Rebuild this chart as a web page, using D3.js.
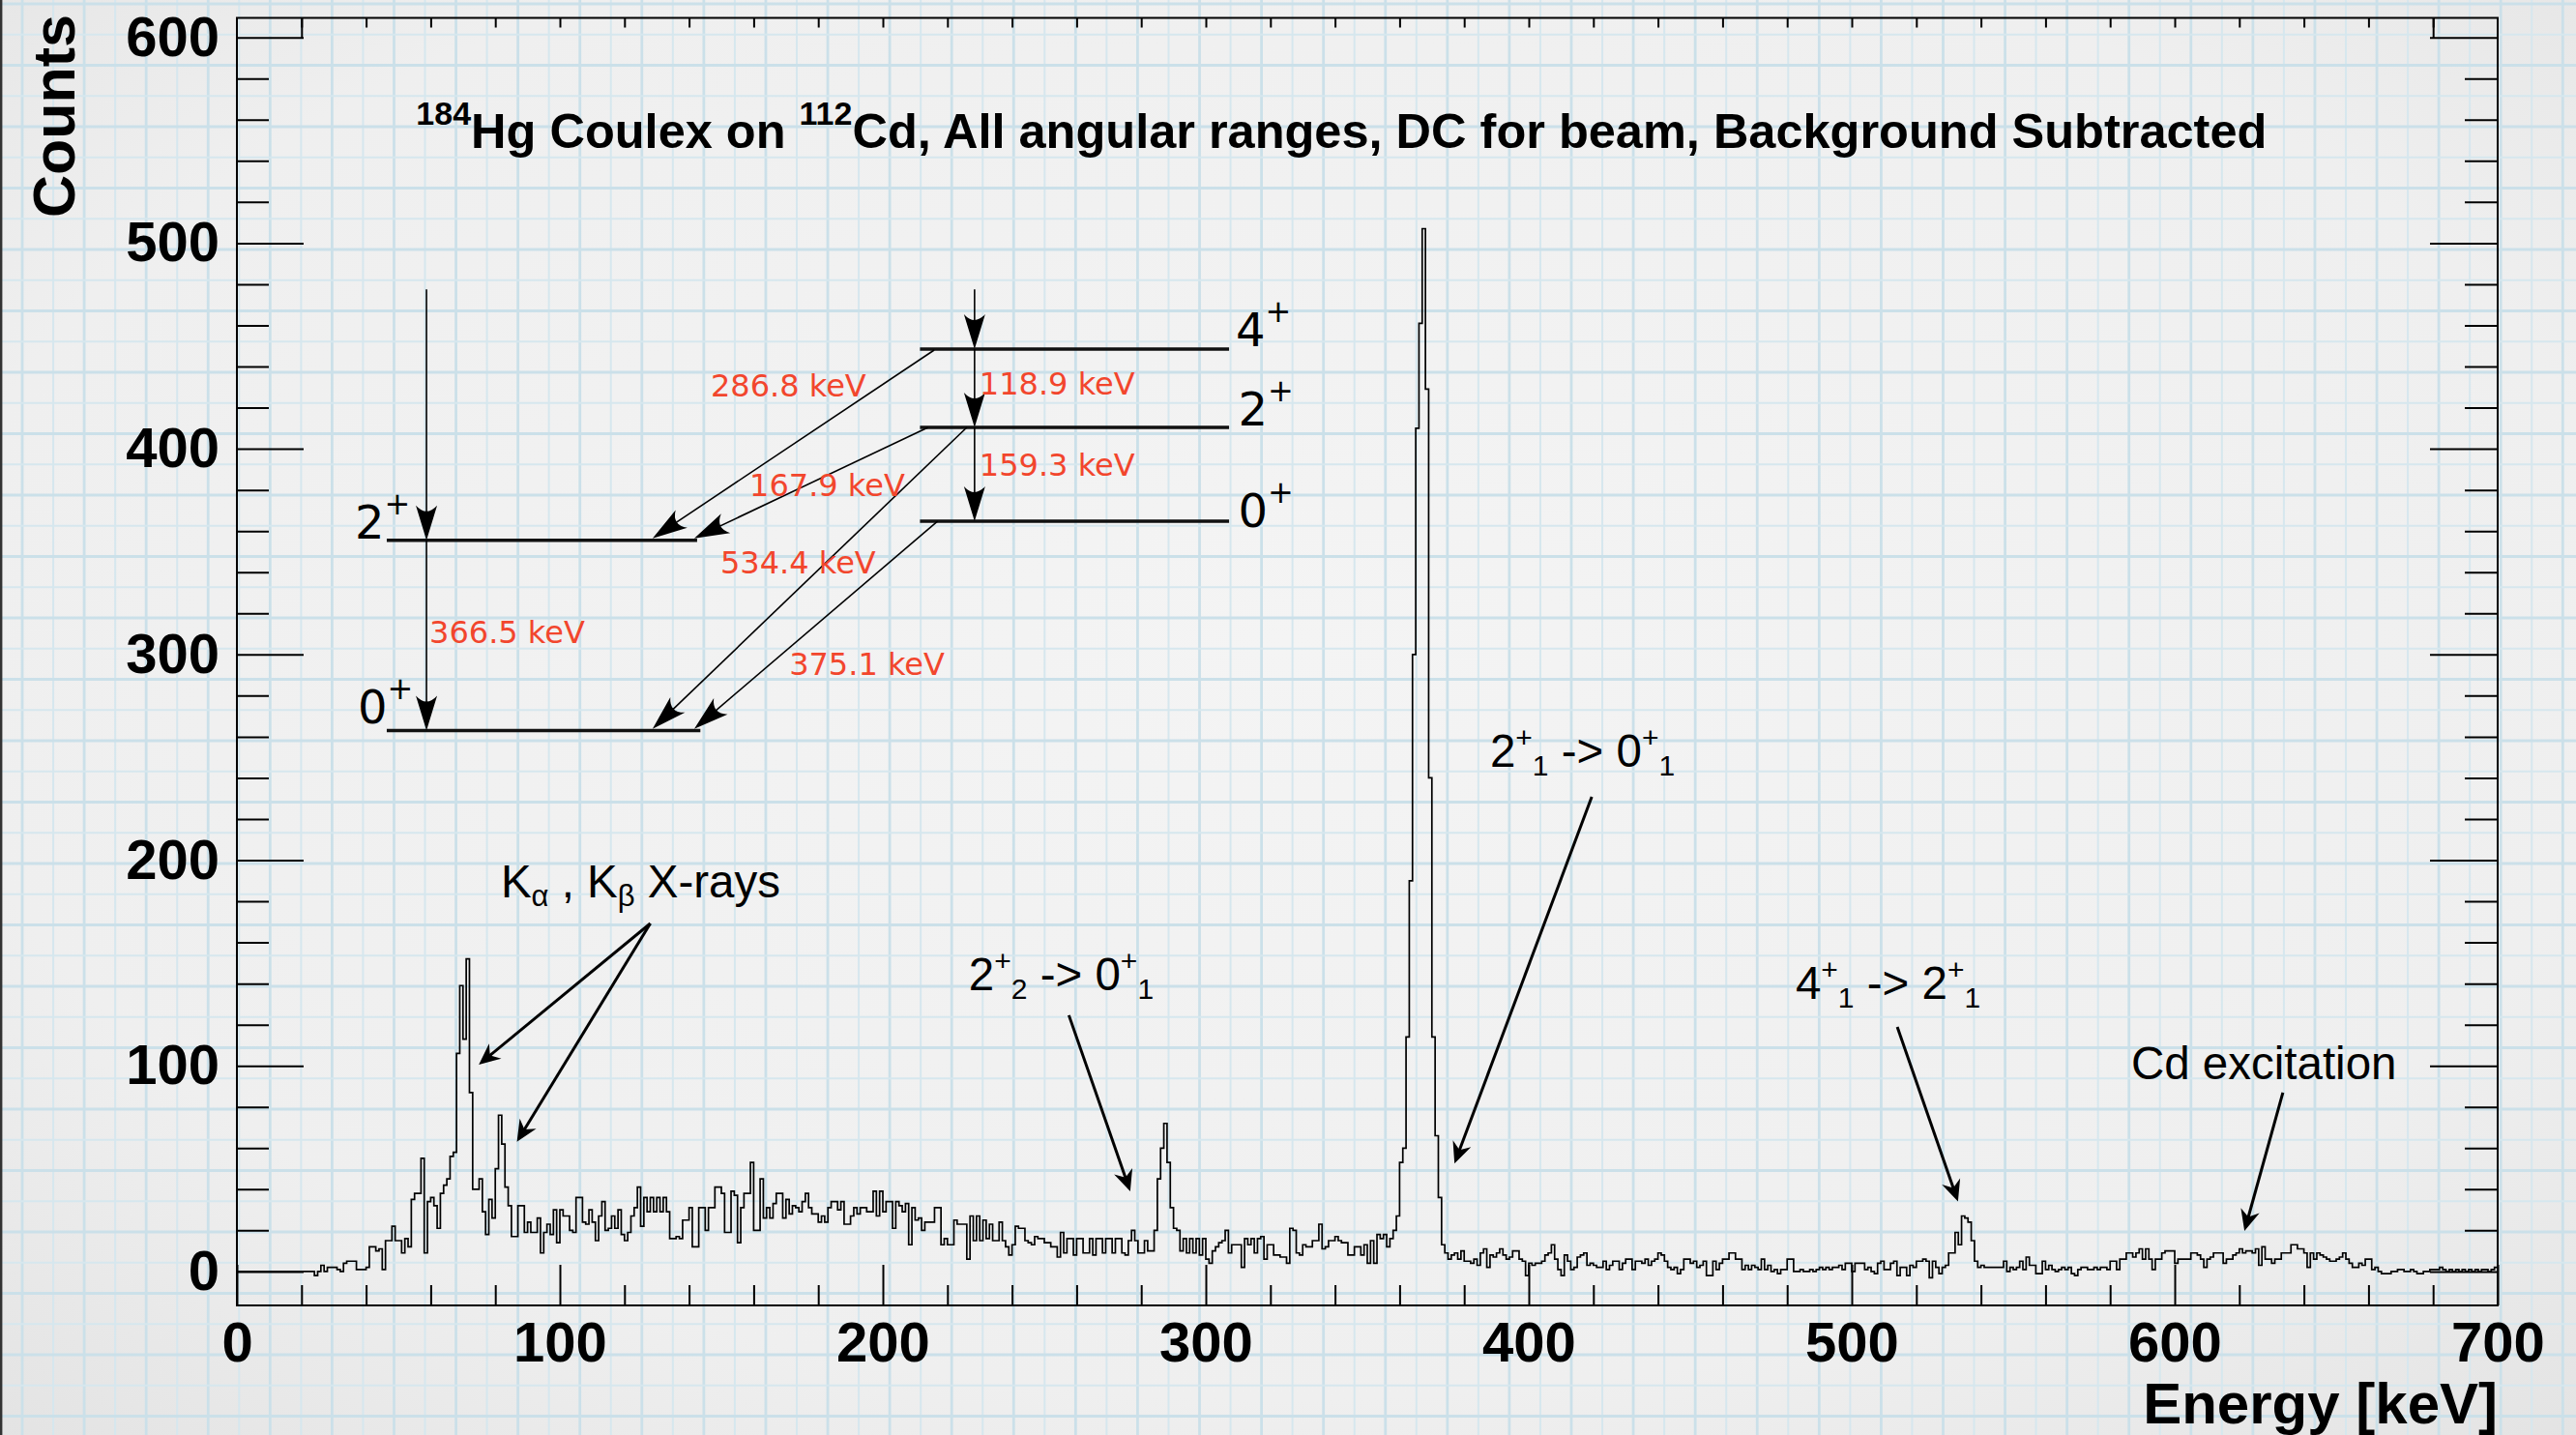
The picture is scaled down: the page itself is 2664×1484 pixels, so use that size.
<!DOCTYPE html>
<html><head><meta charset="utf-8">
<script src="https://cdn.jsdelivr.net/npm/d3@7"></script>
<style>html,body{margin:0;padding:0;background:#eee;overflow:hidden}</style>
</head><body>
<svg id="c" width="2664" height="1484" xmlns="http://www.w3.org/2000/svg"></svg>
<script>
// ---------------- DATA (1 keV bins, counts) ----------------
const counts000 = [0,0,0,0,0,0,0,0,0,0, 0,0,0,0,0,0,0,0,0,0, 0,0,0,0,-2,0,3,0,2,2, 2,1,0,4,5,5,5,1,1,1,
  2,12,12,10,11,1,15,15,22,15, 15,9,16,12,35,38,38,55,9,34, 36,32,21,38,42,45,56,58,106,139,
  113,152,87,40,40,45,29,18,35,26, 50,76,62,41,32,17,17,32,32,19, 24,19,19,26,9,19,23,18,30,14];
const counts100 = [30,27,27,20,19,36,36,24,23,30, 24,15,27,34,20,21,27,21,30,18, 15,19,27,31,41,22,36,29,36,29,
  36,29,36,29,16,16,17,16,25,25, 31,12,12,31,31,20,31,31,41,41, 38,19,19,39,37,14,31,38,38,53,
  20,20,45,26,31,26,33,38,38,26, 35,28,32,31,29,34,38,31,28,28, 24,27,24,31,34,34,30,34,23,23,
  27,31,28,31,31,29,29,39,27,39];
const counts200 = [29,34,34,21,34,32,29,33,13,31, 25,26,20,24,24,24,31,31,13,16, 13,13,25,23,23,23,6,27,15,27,
  15,25,16,23,15,15,24,15,12,8, 13,22,21,21,15,14,13,17,16,16, 14,14,12,12,7,19,9,16,16,8,
  16,16,9,9,16,8,16,16,9,16, 16,9,16,16,9,8,15,20,15,9, 9,15,10,10,20,45,60,72,53,31,
  21,20,10,16,9,16,9,16,8,16];
const counts300 = [6,4,10,12,14,15,20,9,13,13, 13,2,16,13,16,9,16,17,6,13, 13,8,8,7,7,4,21,20,9,8,
  13,12,12,15,15,23,11,12,15,15, 17,15,14,14,8,8,12,12,8,13, 4,15,4,18,16,18,12,16,20,27,
  53,60,114,190,300,410,461,507,429,240, 114,66,36,13,9,6,8,9,6,10, 5,5,4,6,3,9,11,2,8,7,
  9,11,8,6,7,10,10,6,5,-2];
const counts400 = [4,3,4,4,5,8,9,13,6,1, -2,8,5,1,2,7,8,9,3,4, 3,2,2,5,1,3,5,5,1,4,
  6,6,1,5,5,4,6,3,5,6, 9,8,5,2,1,2,-1,1,6,6, 4,5,2,3,5,-2,-2,5,1,4,
  6,6,9,9,6,6,1,3,1,3, 2,1,6,1,3,0,1,-1,1,1, 6,6,0,0,1,0,0,1,0,1,
  2,1,2,1,2,2,3,1,4,4];
const counts500 = [0,4,4,4,1,2,0,-1,4,5, 1,1,4,5,-2,2,2,-2,3,2, 5,5,6,5,-3,5,2,-1,2,3,
  9,9,19,13,27,26,24,15,5,2, 3,2,2,2,2,2,2,5,0,2, 1,2,5,1,7,3,3,-1,-1,5,
  1,3,1,0,1,2,1,2,-1,-2, 1,2,2,1,1,2,1,2,2,1, 5,5,1,6,6,9,9,7,9,11,
  6,11,6,1,6,6,9,10,10,10];
const counts600 = [4,6,6,6,6,9,9,8,6,2, 6,7,9,9,9,4,6,6,8,9, 11,9,10,10,9,11,3,12,6,6,
  4,6,6,9,9,9,13,13,11,11, 9,2,9,6,9,8,7,6,5,5, 6,7,9,6,4,2,2,4,3,6,
  6,1,2,0,-1,-1,-1,0,0,1, 1,0,0,1,0,-1,-1,0,0,1, 1,1,2,1,0,1,0,1,0,1,
  0,1,0,1,0,1,1,0,1,2];
const binWidth = 1;           // keV
const xDomain = [0, 700];
const yDomain = [-16.5, 609.5];
const xMajorTicks = [0,100,200,300,400,500,600,700];
const yMajorTicks = [0,100,200,300,400,500,600];

// level scheme (inset), in data units
const leftLevels  = [{lab:"2", e:355.5}, {lab:"0", e:263.0}];
const rightLevels = [{lab:"4", e:448.5}, {lab:"2", e:410.4}, {lab:"0", e:364.8}];
const gammaLabels = ["366.5 keV","118.9 keV","159.3 keV","286.8 keV","167.9 keV","534.4 keV","375.1 keV"];

// ---------------- DRAW ----------------
const counts = [].concat(counts000,counts100,counts200,counts300,counts400,counts500,counts600);
const W = 2664, H = 1484;
const svg = d3.select("#c");
const x = d3.scaleLinear().domain(xDomain).range([245, 2583]);
const y = d3.scaleLinear().domain(yDomain).range([1350, 18.5]);

// background paper
const defs = svg.append("defs");
const rg = defs.append("radialGradient").attr("id","bg").attr("cx","50%").attr("cy","45%").attr("r","75%");
rg.append("stop").attr("offset","0").attr("stop-color","#f4f4f4");
rg.append("stop").attr("offset","0.7").attr("stop-color","#efefef");
rg.append("stop").attr("offset","1").attr("stop-color","#e3e3e3");
svg.append("rect").attr("width",W).attr("height",H).attr("fill","url(#bg)");
const grid = svg.append("g");
d3.range(0, 84).forEach(k => {
  const gx = 23 + 32.04*k;
  grid.append("line").attr("x1",gx).attr("x2",gx).attr("y1",0).attr("y2",H)
    .attr("stroke", k%2 ? "#d6e7ee" : "#cbe0e9").attr("stroke-width", k%2 ? 2 : 2.8);
});
d3.range(0, 48).forEach(k => {
  const gy = 4 + 31.75*k;
  grid.append("line").attr("x1",0).attr("x2",W).attr("y1",gy).attr("y2",gy)
    .attr("stroke", k%2 ? "#d6e7ee" : "#cbe0e9").attr("stroke-width", k%2 ? 2 : 2.8);
});
svg.append("line").attr("x1",1.2).attr("x2",1.2).attr("y1",0).attr("y2",H).attr("stroke","#333").attr("stroke-width",2.4);

// histogram
const pts = counts.map((v,i) => [i*binWidth, v]);
pts.push([counts.length*binWidth, counts[counts.length-1]]);
svg.append("path").attr("d", d3.line().x(d=>x(d[0])).y(d=>y(d[1])).curve(d3.curveStepAfter)(pts))
  .attr("fill","none").attr("stroke","#000").attr("stroke-width",1.7);

// frame
svg.append("rect").attr("x",x(0)).attr("y",y(yDomain[1]))
  .attr("width",x(700)-x(0)).attr("height",y(yDomain[0])-y(yDomain[1]))
  .attr("fill","none").attr("stroke","#000").attr("stroke-width",2);

const tickStyle = g => { g.selectAll(".domain").remove(); g.selectAll("line").attr("stroke","#000").attr("stroke-width",2); };
const labStyle = (g, fs) => g.selectAll("text").attr("font-family","'Liberation Sans', Arial, sans-serif")
  .attr("font-weight","bold").attr("font-size",fs).attr("fill","#000");
const yMinor = d3.range(0, 601, 20).filter(v => v%100);
const xMinor = d3.range(0, 701, 20).filter(v => v%100);

// left axis
svg.append("g").attr("transform",`translate(${x(0)},0)`)
  .call(d3.axisLeft(y).tickValues(yMajorTicks).tickSizeInner(-69).tickSizeOuter(0).tickPadding(18))
  .call(tickStyle).call(g=>labStyle(g,58));
svg.append("g").attr("transform",`translate(${x(0)},0)`)
  .call(d3.axisLeft(y).tickValues(yMinor).tickSizeInner(-33).tickSizeOuter(0).tickFormat(""))
  .call(tickStyle);
// right axis
svg.append("g").attr("transform",`translate(${x(700)},0)`)
  .call(d3.axisRight(y).tickValues(yMajorTicks).tickSizeInner(-70).tickSizeOuter(0).tickFormat(""))
  .call(tickStyle);
svg.append("g").attr("transform",`translate(${x(700)},0)`)
  .call(d3.axisRight(y).tickValues(yMinor).tickSizeInner(-34).tickSizeOuter(0).tickFormat(""))
  .call(tickStyle);
// bottom axis
svg.append("g").attr("transform",`translate(0,${y(yDomain[0])})`)
  .call(d3.axisBottom(x).tickValues(xMajorTicks).tickSizeInner(-42).tickSizeOuter(0).tickPadding(17))
  .call(tickStyle).call(g=>labStyle(g,58));
svg.append("g").attr("transform",`translate(0,${y(yDomain[0])})`)
  .call(d3.axisBottom(x).tickValues(xMinor).tickSizeInner(-21).tickSizeOuter(0).tickFormat(""))
  .call(tickStyle);
// top axis
svg.append("g").attr("transform",`translate(0,${y(yDomain[1])})`)
  .call(d3.axisTop(x).tickValues(d3.range(20,700,20)).tickSizeInner(-10).tickSizeOuter(0).tickFormat(""))
  .call(tickStyle);
svg.append("g").attr("transform",`translate(0,${y(yDomain[1])})`)
  .call(d3.axisTop(x).tickValues([20,680]).tickSizeInner(-21).tickSizeOuter(0).tickFormat(""))
  .call(tickStyle);

// axis titles
svg.append("text").attr("transform",`translate(77,15) rotate(-90)`).attr("text-anchor","end")
  .attr("font-family","'Liberation Sans', Arial, sans-serif").attr("font-weight","bold").attr("font-size",61).text("Counts");
svg.append("text").attr("x",x(700)).attr("y",1472).attr("text-anchor","end")
  .attr("font-family","'Liberation Sans', Arial, sans-serif").attr("font-weight","bold").attr("font-size",60).text("Energy [keV]");

// title
const title = svg.append("text").attr("x",x(55.5)).attr("y",y(546.5))
  .attr("font-family","'Liberation Sans', Arial, sans-serif").attr("font-weight","bold").attr("font-size",50.5);
title.append("tspan").attr("font-size",34).attr("dy",-24).text("184");
title.append("tspan").attr("dy",24).text("Hg Coulex on ");
title.append("tspan").attr("font-size",34).attr("dy",-24).text("112");
title.append("tspan").attr("dy",24).text("Cd, All angular ranges, DC for beam, Background Subtracted");

// helpers
function arrowHead(g, x1,y1,x2,y2, L, w, notch, curved) {
  const ang = Math.atan2(y2-y1, x2-x1)*180/Math.PI;
  const d = curved ? `M0,0 L${-L},${-w} Q${-notch},0 ${-L},${w} Z` : `M0,0 L${-L},${-w} L${-notch},0 L${-L},${w} Z`;
  g.append("path").attr("d",d).attr("transform",`translate(${x2},${y2}) rotate(${ang})`).attr("fill","#000");
}
function arrow(g, e1,c1,e2,c2, sw, L, w, notch, curved) {
  const X1=x(e1), Y1=y(c1), X2=x(e2), Y2=y(c2);
  const len = Math.hypot(X2-X1, Y2-Y1);
  const ex = X2 - (X2-X1)/len*notch*0.9, ey = Y2 - (Y2-Y1)/len*notch*0.9;
  g.append("line").attr("x1",X1).attr("y1",Y1).attr("x2",ex).attr("y2",ey).attr("stroke","#000").attr("stroke-width",sw);
  arrowHead(g, X1,Y1,X2,Y2, L,w,notch,curved);
}

// level scheme
const ls = svg.append("g");
const lvlLine = (e1,e2,c) => ls.append("line").attr("x1",x(e1)).attr("x2",x(e2)).attr("y1",y(c)).attr("y2",y(c))
  .attr("stroke","#111").attr("stroke-width",3.6);
lvlLine(46.4, 142.5, leftLevels[0].e);
lvlLine(46.4, 143.5, leftLevels[1].e);
rightLevels.forEach(l => lvlLine(211.5, 307.2, l.e));
const lvlLab = (e,c,lab) => { const t = ls.append("text").attr("x",x(e)).attr("y",y(c))
  .attr("font-family","'DejaVu Sans', sans-serif").attr("font-size",48).attr("fill","#000");
  t.append("tspan").text(lab); t.append("tspan").attr("font-size",32).attr("dy",-25).text("+"); };
lvlLab(36.5, 356.4, leftLevels[0].lab);
lvlLab(37.4, 266.6, leftLevels[1].lab);
lvlLab(309.3, 449.9, rightLevels[0].lab);
lvlLab(310.0, 411.4, rightLevels[1].lab);
lvlLab(310.0, 362.0, rightLevels[2].lab);
// transitions
arrow(ls, 58.7, 477.5, 58.7, leftLevels[0].e, 1.6, 36, 11, 24, true);
arrow(ls, 58.7, leftLevels[0].e, 58.7, leftLevels[1].e, 1.6, 36, 11, 24, true);
arrow(ls, 228.4, 477.5, 228.4, rightLevels[0].e, 1.6, 36, 11, 24, true);
arrow(ls, 228.4, rightLevels[0].e, 228.4, rightLevels[1].e, 1.6, 36, 11, 24, true);
arrow(ls, 228.4, rightLevels[1].e, 228.4, rightLevels[2].e, 1.6, 36, 11, 24, true);
arrow(ls, 215.9, 448.0, 128.7, 356.5, 1.6, 36, 11, 24, true);
arrow(ls, 214.0, 410.4, 141.6, 356.5, 1.6, 36, 11, 24, true);
arrow(ls, 226.0, 410.4, 128.7, 263.8, 1.6, 36, 11, 24, true);
arrow(ls, 217.0, 364.8, 141.6, 263.8, 1.6, 36, 11, 24, true);
const gPos = [[59.6,305.6],[229.9,426.4],[229.9,386.9],[146.7,425.5],[158.7,377.0],[149.7,339.4],[171.0,290.1]];
gammaLabels.forEach((t,i) => ls.append("text").attr("x",x(gPos[i][0])).attr("y",y(gPos[i][1]))
  .attr("font-family","'DejaVu Sans', sans-serif").attr("font-size",32).attr("fill","#f2462d").text(t));

// peak annotations
const an = svg.append("g");
const annFont = t => t.attr("font-family","'Liberation Sans', Arial, sans-serif").attr("font-size",47.5).attr("fill","#000");
const ka = annFont(an.append("text").attr("x",x(81.7)).attr("y",y(182.1)));
ka.append("tspan").text("K"); ka.append("tspan").attr("font-size",31).attr("dy",9).text("α");
ka.append("tspan").attr("dy",-9).text(" , K"); ka.append("tspan").attr("font-size",31).attr("dy",9).text("β");
ka.append("tspan").attr("dy",-9).text(" X-rays");
function stateLab(e,c,a,as,b,bs) {
  const t = annFont(an.append("text").attr("x",x(e)).attr("y",y(c)));
  t.append("tspan").text(a); t.append("tspan").attr("font-size",30).attr("dy",-20).text("+");
  t.append("tspan").attr("font-size",30).attr("dy",29).text(as);
  t.append("tspan").attr("dy",-9).text(" -> " + b); t.append("tspan").attr("font-size",30).attr("dy",-20).text("+");
  t.append("tspan").attr("font-size",30).attr("dy",29).text(bs);
}
stateLab(226.6, 136.6, "2","2","0","1");
stateLab(388.0, 245.2, "2","1","0","1");
stateLab(482.6, 132.6, "4","1","2","1");
annFont(an.append("text").attr("x",x(586.5)).attr("y",y(93.6))).text("Cd excitation");
arrow(an, 128.0, 169.2, 74.9, 100.6, 3, 22, 10, 15, false);
arrow(an, 128.0, 169.2, 86.7, 63.1, 3, 22, 10, 15, false);
arrow(an, 257.6, 124.6, 276.6, 39.0, 3, 22, 10, 15, false);
arrow(an, 419.5, 230.8, 377.0, 52.5, 3, 22, 10, 15, false);
arrow(an, 514.1, 118.9, 532.9, 34.0, 3, 22, 10, 15, false);
arrow(an, 633.5, 87.0, 621.6, 19.7, 3, 22, 10, 15, false);
</script>
</body></html>
